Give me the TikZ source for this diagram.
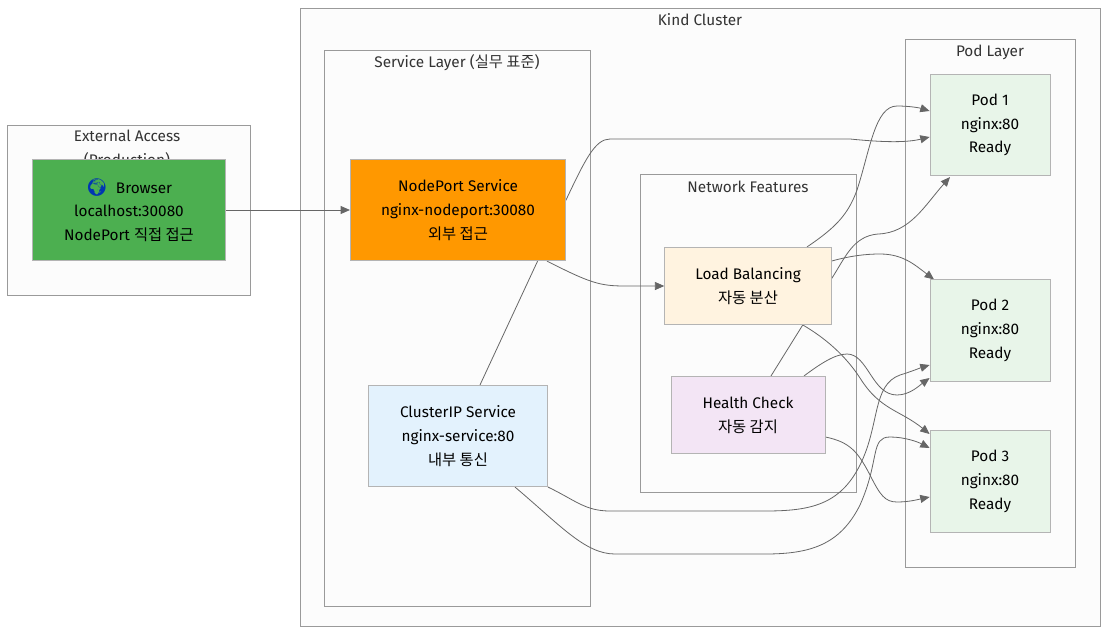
\documentclass[tikz,border=0pt]{standalone}
\usepackage{fontspec}
\setmainfont{Fira Sans}
\newfontfamily\krfont{Noto Sans CJK KR}
\newfontfamily\emojifont{Noto Emoji}
\usetikzlibrary{arrows.meta,positioning,calc}
\definecolor{clusterfill}{HTML}{FCFCFC}
\definecolor{clusterline}{HTML}{9A9A9A}
\definecolor{nodeline}{HTML}{B4B4B4}
\definecolor{edgeline}{HTML}{666666}
\definecolor{titletext}{HTML}{333333}
\definecolor{browserfill}{HTML}{4CAF50}
\definecolor{nodeportfill}{HTML}{FF9800}
\definecolor{clusteripfill}{HTML}{E3F2FD}
\definecolor{balancefill}{HTML}{FFF3E0}
\definecolor{healthfill}{HTML}{F3E5F5}
\definecolor{podfill}{HTML}{E8F5E9}
\pgfdeclarelayer{clusterlayer}
\pgfdeclarelayer{edgelayer}
\pgfsetlayers{clusterlayer,edgelayer,main}
\tikzset{
  clusterbox/.style={draw=clusterline,fill=clusterfill,line width=.7pt,inner sep=0pt},
  clustertitle/.style={text=titletext,font=\fontsize{11.5}{17.8}\selectfont,align=center,inner sep=0pt},
  servicebox/.style={draw=nodeline,line width=.6pt,align=center,inner sep=0pt,font=\fontsize{11.5}{17.8}\selectfont},
  podbox/.style={servicebox,fill=podfill,minimum width=90pt,minimum height=76pt},
  flow/.style={draw=edgeline,line width=.6pt,-{Triangle[length=7pt,width=6pt]}}
}
\begin{document}
\begin{tikzpicture}[x=.75pt,y=-.75pt]
\useasboundingbox (0,0) rectangle (1116,639);
\begin{pgfonlayer}{clusterlayer}
\node[clusterbox,minimum width=182pt,minimum height=128pt] (external) at (129,210.5) {};
\node[clusterbox,minimum width=600pt,minimum height=464pt] (kind) at (700,317.5) {};
\node[clusterbox,minimum width=199pt,minimum height=417pt] (servicelayer) at (457.5,328.5) {};
\node[clusterbox,minimum width=162pt,minimum height=238pt] (features) at (748,333.5) {};
\node[clusterbox,minimum width=127.5pt,minimum height=395.5pt] (podlayer) at (990,303.5) {};
\node[clustertitle] (externaltitle) at (127,149) {External Access\\(Production)};
\node[clustertitle] (kindtitle) at (700,20) {Kind Cluster};
\node[clustertitle] (servicetitle) at (457,63) {Service Layer ({\krfont 실무 표준})};
\node[clustertitle] (featurestitle) at (748,187) {Network Features};
\node[clustertitle] (podtitle) at (990,52) {Pod Layer};
\end{pgfonlayer}
% nodes
\node[servicebox,fill=browserfill,minimum width=145pt,minimum height=76pt] (browser) at (129,210) {{\fontsize{13}{17.8}\emojifont\textcolor{blue!70!cyan!70!black}{🌍}}\ \ Browser\\localhost:30080\\NodePort {\krfont 직접 접근}};
\node[servicebox,fill=nodeportfill,minimum width=161.5pt,minimum height=76pt] (nodeport) at (458,210) {NodePort Service\\nginx-nodeport:30080\\{\krfont 외부 접근}};
\node[servicebox,fill=clusteripfill,minimum width=134.5pt,minimum height=76pt] (clusterip) at (458,436) {ClusterIP Service\\nginx-service:80\\{\krfont 내부 통신}};
\node[servicebox,fill=balancefill,minimum width=125pt,minimum height=58pt] (balance) at (748,286) {Load Balancing\\{\krfont 자동 분산}};
\node[servicebox,fill=healthfill,minimum width=115.5pt,minimum height=58pt] (health) at (748,415) {Health Check\\{\krfont 자동 감지}};
\node[podbox] (pod1) at (990,125) {Pod 1\\nginx:80\\Ready};
\node[podbox] (pod2) at (990,330.5) {Pod 2\\nginx:80\\Ready};
\node[podbox] (pod3) at (990,481.5) {Pod 3\\nginx:80\\Ready};
% connectors run behind the nodes
\begin{pgfonlayer}{edgelayer}
\draw[flow] (browser.east)--(nodeport.west);
\draw[flow] ($(nodeport.south)+(89,0)$) .. controls (590,283) and (600,286) .. (625,286) -- (balance.west);
\draw[flow] ($(clusterip.north)+(22,0)$) -- (566,200) .. controls (585,160) and (595,139) .. (610,139) -- (850,139) .. controls (880,142) and (905,143) .. ($(pod1.west)+(0,12)$);
\draw[flow] ($(clusterip.south)+(90,0)$) .. controls (575,500) and (585,511) .. (610,511) -- (765,511) .. controls (810,511) and (840,505) .. (860,465) .. controls (880,425) and (872,385) .. (900,375) .. controls (910,372) and (920,368) .. ($(pod2.west)+(0,34.5)$);
\draw[flow] ($(clusterip.south)+(57,0)$) .. controls (560,525) and (585,554) .. (615,554) -- (765,554) .. controls (810,554) and (840,545) .. (860,505) .. controls (880,460) and (870,437) .. (890,437) .. controls (905,437) and (918,442) .. ($(pod3.west)+(0,-33.5)$);
\draw[flow] ($(balance.north)+(59,0)$) .. controls (835,228) and (848,215) .. (857,190) .. controls (870,150) and (875,106) .. (897,106) .. controls (910,106) and (920,108) .. ($(pod1.west)+(0,-14)$);
\draw[flow] ($(balance.east)+(0,-25)$) .. controls (850,256) and (865,254) .. (880,254) .. controls (903,254) and (915,265) .. ($(pod2.north)+(-56,0)$);
\draw[flow] ($(balance.south)+(55,0)$) .. controls (825,338) and (845,355) .. (860,378) .. controls (880,410) and (900,410) .. ($(pod3.west)+(0,-47.5)$);
\draw[flow] ($(health.north)+(23,0)$) -- (832,278) .. controls (845,258) and (853,236) .. (878,234) .. controls (910,233) and (925,205) .. ($(pod1.south)+(-40,1)$);
\draw[flow] ($(health.north)+(56,0)$) .. controls (820,364) and (835,354) .. (847,354) .. controls (868,354) and (872,395) .. (897,395) .. controls (910,395) and (920,385) .. ($(pod2.west)+(0,47.5)$);
\draw[flow] ($(health.east)+(0,22)$) .. controls (850,442) and (858,452) .. (870,475) .. controls (880,495) and (885,502) .. (897,502) .. controls (910,502) and (920,499) .. ($(pod3.west)+(0,15.5)$);
\end{pgfonlayer}
\end{tikzpicture}
\end{document}
